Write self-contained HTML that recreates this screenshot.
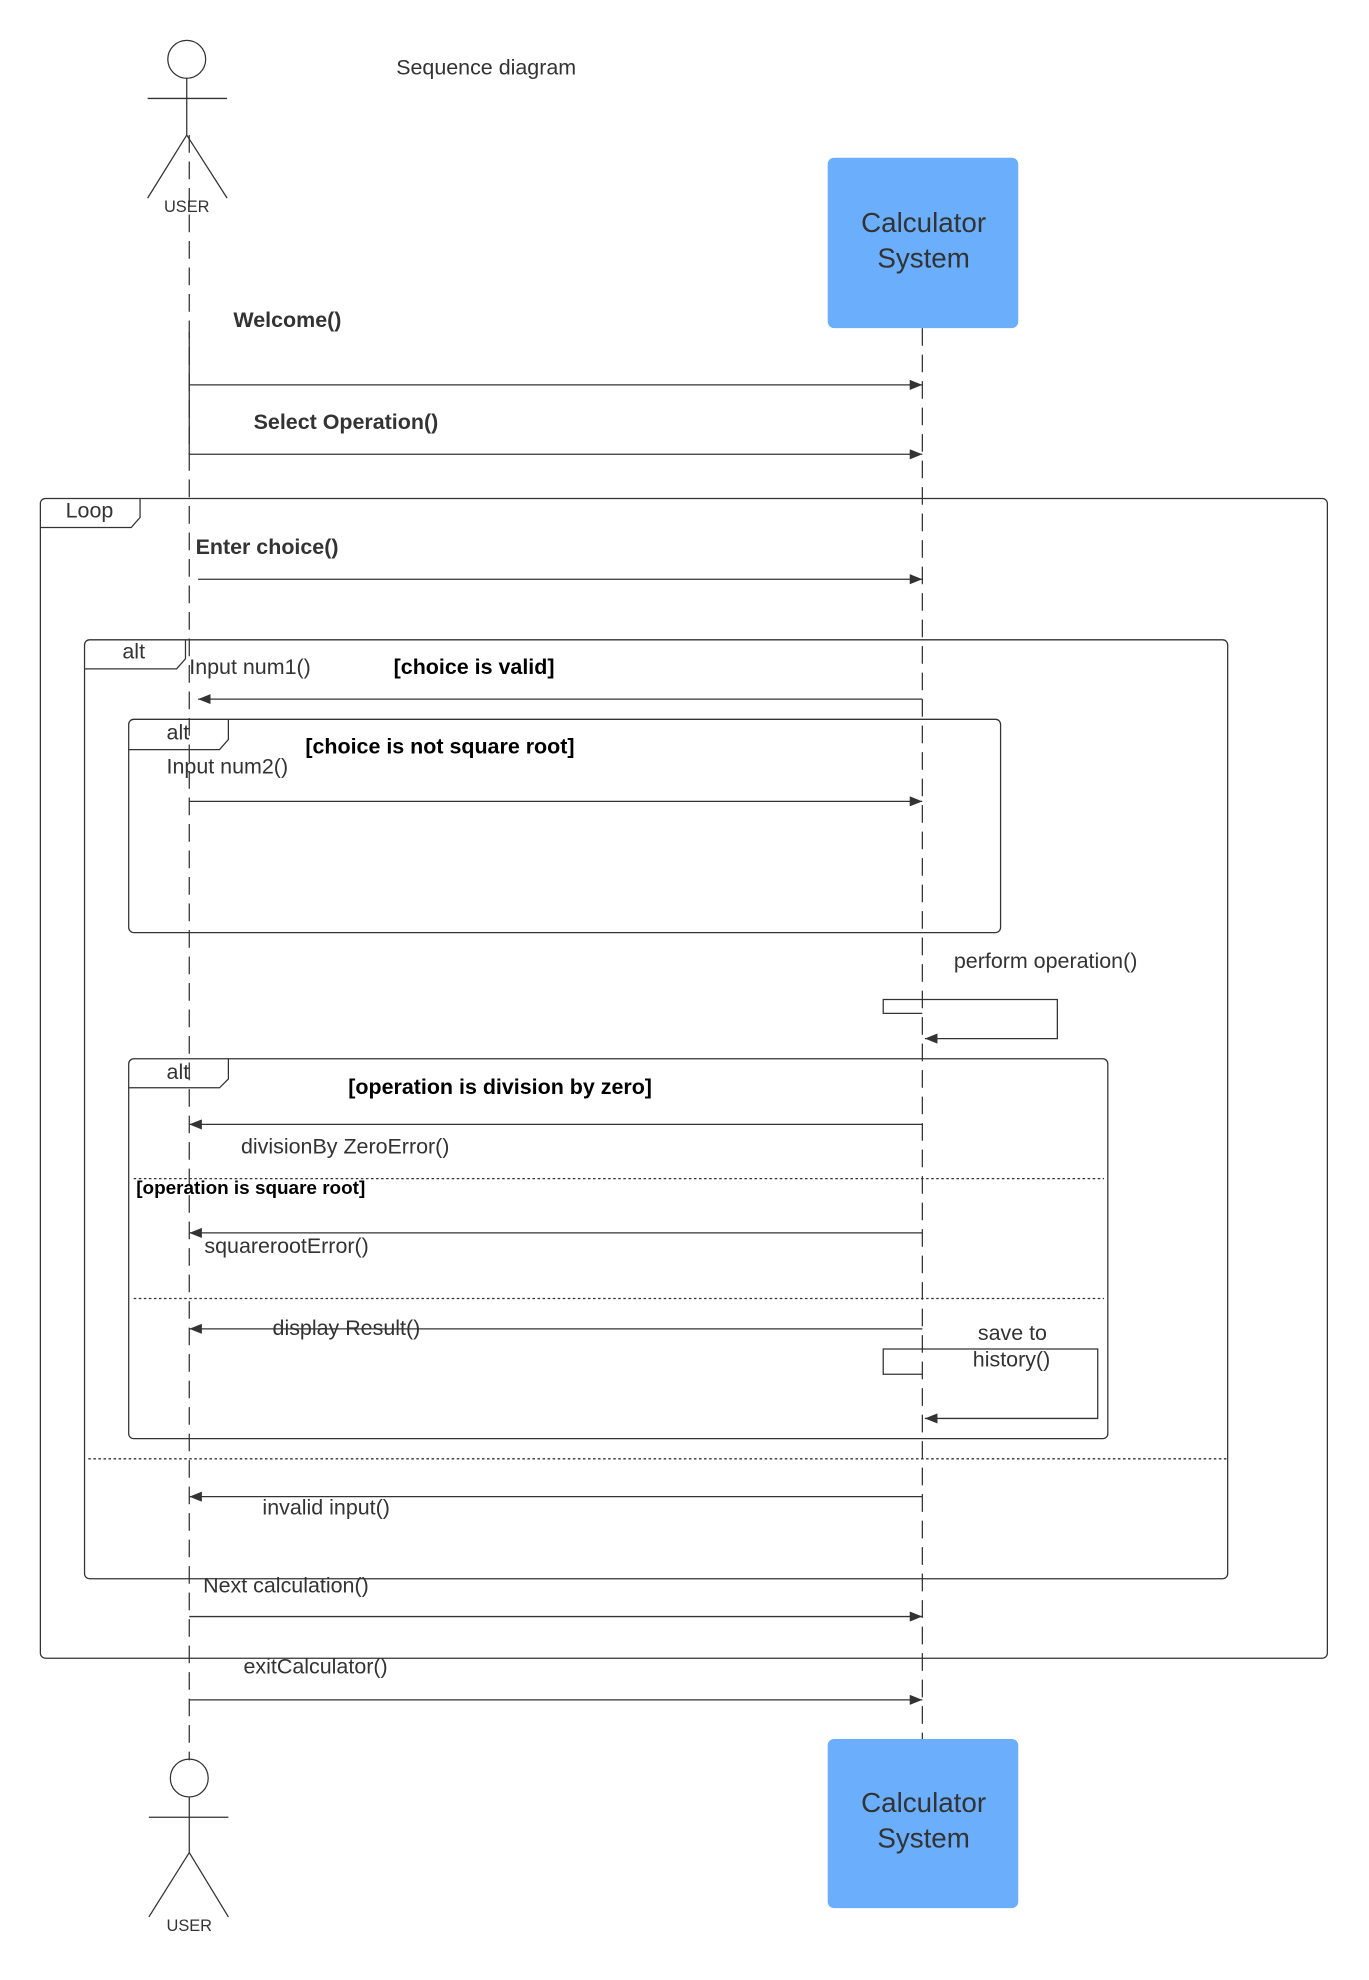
<!DOCTYPE html>
<html><head><meta charset="utf-8"><style>html,body{margin:0;padding:0;background:#fff}svg{display:block}</style></head>
<body>
<svg width="1369" height="1980" viewBox="0 0 1085 1569" preserveAspectRatio="none" xmlns="http://www.w3.org/2000/svg" font-family="Liberation Sans, sans-serif" fill="#333">
<defs>
<marker id="a" markerWidth="10" markerHeight="8" refX="10" refY="4" orient="auto" markerUnits="userSpaceOnUse"><path d="M0,0L10,4L0,8z" fill="#333"/></marker>
</defs>
<g stroke="#333" stroke-width="1" fill="none">
<circle cx="148" cy="47" r="15"/>
<line x1="148" y1="62" x2="148" y2="107"/><line x1="117" y1="78" x2="180" y2="78"/>
<line x1="148" y1="107" x2="117" y2="157"/><line x1="148" y1="107" x2="180" y2="157"/>
<circle cx="150" cy="1409" r="15"/>
<line x1="150" y1="1424" x2="150" y2="1468"/><line x1="118" y1="1440" x2="181" y2="1440"/>
<line x1="150" y1="1468" x2="118" y2="1519"/><line x1="150" y1="1468" x2="181" y2="1519"/>
<line x1="150" y1="107" x2="150" y2="1395" stroke-dasharray="14,7"/>
<line x1="731" y1="260" x2="731" y2="1378" stroke-dasharray="14,7"/>
<rect x="32" y="395" width="1020" height="919" rx="4"/>
<path d="M32,418H104L111,410V395"/>
<rect x="67" y="507" width="906" height="744" rx="4"/>
<path d="M67,530H140L147,522V507"/>
<rect x="102" y="570" width="691" height="169" rx="4"/>
<path d="M102,594H174L181,586V570"/>
<rect x="102" y="839" width="776" height="301" rx="4"/>
<path d="M102,862H174L181,855V839"/>
<line x1="106" y1="934" x2="875" y2="934" stroke-dasharray="2,2"/>
<line x1="106" y1="1029" x2="875" y2="1029" stroke-dasharray="2,2"/>
<line x1="70" y1="1156" x2="972" y2="1156" stroke-dasharray="2,2"/>
<path d="M150,263V305H731" marker-end="url(#a)"/>
<path d="M150,305V360H731" marker-end="url(#a)"/>
<line x1="157" y1="459" x2="731" y2="459" marker-end="url(#a)"/>
<line x1="731" y1="554" x2="157" y2="554" marker-end="url(#a)"/>
<line x1="150" y1="635" x2="731" y2="635" marker-end="url(#a)"/>
<path d="M731,803H700V792H838V823H733" marker-end="url(#a)"/>
<line x1="731" y1="891" x2="150" y2="891" marker-end="url(#a)"/>
<line x1="731" y1="977" x2="150" y2="977" marker-end="url(#a)"/>
<line x1="731" y1="1053" x2="150" y2="1053" marker-end="url(#a)"/>
<path d="M731,1089H700V1069H870V1124H733" marker-end="url(#a)"/>
<line x1="731" y1="1186" x2="150" y2="1186" marker-end="url(#a)"/>
<line x1="150" y1="1281" x2="731" y2="1281" marker-end="url(#a)"/>
<line x1="150" y1="1347" x2="731" y2="1347" marker-end="url(#a)"/>
</g>
<rect x="656" y="125" width="151" height="135" rx="5" fill="#6aaefc"/>
<rect x="656" y="1378" width="151" height="134" rx="5" fill="#6aaefc"/>
<g font-size="22" text-anchor="middle">
<text x="732" y="184">Calculator</text><text x="732" y="212">System</text>
<text x="732" y="1436">Calculator</text><text x="732" y="1464">System</text>
</g>
<g font-size="13" text-anchor="middle"><text x="148" y="168">USER</text><text x="150" y="1530">USER</text></g>
<g font-size="17">
<text x="314" y="59">Sequence diagram</text>
<text x="185" y="259" font-weight="bold">Welcome()</text>
<text x="201" y="340" font-weight="bold">Select Operation()</text>
<text x="52" y="410">Loop</text>
<text x="155" y="439" font-weight="bold">Enter choice()</text>
<text x="97" y="522">alt</text>
<text x="150" y="534">Input num1()</text>
<text x="312" y="534" font-weight="bold" fill="#000">[choice is valid]</text>
<text x="132" y="586">alt</text>
<text x="242" y="597" font-weight="bold" fill="#000">[choice is not square root]</text>
<text x="132" y="613">Input num2()</text>
<text x="756" y="767">perform operation()</text>
<text x="132" y="855">alt</text>
<text x="276" y="867" font-weight="bold" fill="#000">[operation is division by zero]</text>
<text x="191" y="914">divisionBy ZeroError()</text>
<text x="108" y="946" font-weight="bold" font-size="15" fill="#000">[operation is square root]</text>
<text x="162" y="993">squarerootError()</text>
<text x="216" y="1058">display Result()</text>
<text x="775" y="1062">save to</text>
<text x="771" y="1083">history()</text>
<text x="208" y="1200">invalid input()</text>
<text x="161" y="1262">Next calculation()</text>
<text x="193" y="1326">exitCalculator()</text>
</g>
</svg>
</body></html>
